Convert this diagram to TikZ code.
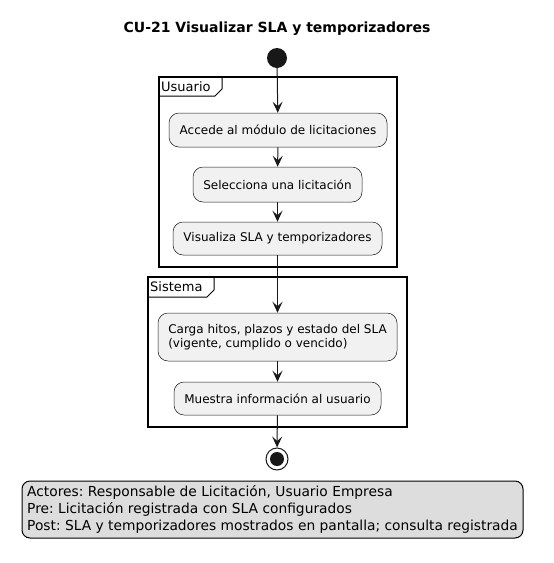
\documentclass[tikz,border=0pt]{standalone}
\usepackage{fontspec}
\setmainfont{DejaVu Sans}
\usetikzlibrary{arrows.meta}
\definecolor{actfill}{HTML}{F1F1F1}
\definecolor{actline}{HTML}{181818}
\definecolor{legfill}{HTML}{DDDDDD}
\frenchspacing
\begin{document}
\begin{tikzpicture}[x=1pt,y=-1pt,
  act/.style={draw=actline,fill=actfill,line width=0.5pt,rounded corners=10pt,inner sep=0pt,font=\fontsize{12}{14}\selectfont,align=left},
  flow/.style={draw=actline,line width=1pt,-{Stealth[length=11pt,width=10pt,inset=4.5pt]}},
  frame/.style={draw=black,line width=1.5pt},
  tab/.style={font=\fontsize{13}{15}\selectfont,anchor=west,inner sep=0pt}]
\useasboundingbox (0,0) rectangle (554,563);
\node[font=\bfseries\fontsize{14}{16}\selectfont] (title) at (277,29) {CU-21 Visualizar SLA y temporizadores};
% start
\node[circle,fill=actline,minimum size=20pt,inner sep=0pt] (start) at (277,58) {};
% Usuario frame
\draw[frame] (159,77) rectangle (397,267);
\draw[line width=1pt] (159,96) -- (215,96) -- (222,89) -- (222,77);
\node[tab] (lblU) at (161,87) {Usuario};
% Sistema frame
\draw[frame] (148,277) rectangle (407,427);
\draw[line width=1pt] (148,297) -- (207,297) -- (214,290) -- (214,277);
\node[tab] (lblS) at (150,287) {Sistema};
% activities
\node[act,minimum width=218pt,minimum height=34pt] (a1) at (278,130) {Accede al módulo de licitaciones};
\node[act,minimum width=169pt,minimum height=35pt] (a2) at (277.5,184.5) {Selecciona una licitación};
\node[act,minimum width=209pt,minimum height=33pt] (a3) at (277.5,238.5) {Visualiza SLA y temporizadores};
\node[act,minimum width=239pt,minimum height=48pt] (a4) at (277.5,337) {Carga hitos, plazos y estado del SLA\\(vigente, cumplido o vencido)};
\node[act,minimum width=207pt,minimum height=33pt] (a5) at (277.5,398.5) {Muestra información al usuario};
% end
\node[circle,draw=actline,line width=1pt,fill=white,minimum size=22pt,inner sep=0pt] (stop) at (277,459) {};
\node[circle,fill=actline,minimum size=14pt,inner sep=0pt] (stopin) at (277,459) {};
% flows
\draw[flow] (start) -- (a1);
\draw[flow] (a1) -- (a2);
\draw[flow] (a2) -- (a3);
\draw[flow] (a3) -- (a4);
\draw[flow] (a4) -- (a5);
\draw[flow] (a5) -- (stop);
% legend
\node[draw=black,line width=1pt,fill=legfill,rounded corners=8pt,minimum width=501pt,minimum height=57pt,inner sep=0pt,align=left,font=\fontsize{13.8}{17}\selectfont] (legend) at (272.5,509.5) {Actores: Responsable de Licitación, Usuario Empresa\\Pre: Licitación registrada con SLA configurados\\Post: SLA y temporizadores mostrados en pantalla; consulta registrada};
\end{tikzpicture}
\end{document}
